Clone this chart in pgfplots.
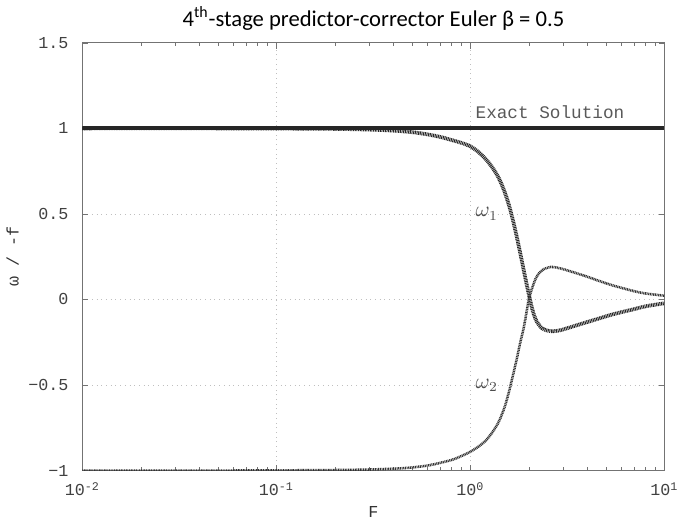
\documentclass[border=0pt]{standalone}
\usepackage{fontspec}
\setmainfont{Carlito}
\setmonofont{Liberation Mono}
\usepackage{pgfplots}
\pgfplotsset{compat=1.18}

\begin{document}
\begin{tikzpicture}
\begin{axis}[
  xmode=log,
  width=296pt, height=217.5pt,
  scale only axis,
  xmin=0.01, xmax=10, ymin=-1, ymax=1.5,
  axis line style={black!55, line width=0.5pt},
  tick style={black!55},
  major tick length=3pt, minor tick length=1.8pt,
  tick align=inside,
  xtick={0.01,0.1,1,10},
  xticklabels={10\textsuperscript{-2},10\textsuperscript{-1},10\textsuperscript{0},10\textsuperscript{1}},
  ytick={-1,-0.5,0,0.5,1,1.5},
  yticklabels={−1,−0.5,0,0.5,1,1.5},
  ticklabel style={font=\ttfamily\fontsize{8.5}{9}\selectfont, text=black!75},
  xticklabel style={yshift=-2.5pt},
  yticklabel style={xshift=-3.5pt},
  grid=major,
  major grid style={black!25, dotted, line width=0.4pt},
  xlabel={F},
  ylabel={ω / -f},
  label style={font=\ttfamily\fontsize{8.5}{9}\selectfont, text=black!80},
  xlabel style={yshift=1.5pt},
  ylabel style={yshift=-2pt},
  title={4\textsuperscript{th}-stage predictor-corrector Euler β = 0.5},
  title style={font=\fontsize{11.5}{12}\selectfont, yshift=-3pt},
]
\addplot[black!85, line width=2pt] coordinates {(0.01,1) (10,1)};

\addplot[black!85, line width=1.9pt, dash pattern=on 0.5pt off 0.35pt, smooth] coordinates {
(0.01,1) (0.05,1) (0.1,0.999) (0.2,0.997) (0.3,0.993) (0.4,0.987) (0.5,0.978)
(0.6,0.965) (0.7,0.95) (0.8,0.932) (0.9,0.915) (1.0,0.895) (1.1,0.862)
(1.2,0.82) (1.3,0.77) (1.4,0.71) (1.5,0.63) (1.6,0.53) (1.7,0.41)
(1.8,0.28) (1.9,0.15) (2.0,0.03) (2.1,-0.07) (2.2,-0.13) (2.35,-0.17)
(2.6,-0.186) (2.9,-0.18) (3.2,-0.166) (3.6,-0.148) (4.0,-0.132) (4.7,-0.108)
(5.5,-0.085) (6.9,-0.058) (8.0,-0.04) (10,-0.022)
};

\addplot[black!80, line width=1.3pt, dash pattern=on 0.5pt off 0.35pt, smooth] coordinates {
(0.01,-1) (0.05,-1) (0.1,-0.999) (0.2,-0.997) (0.3,-0.994) (0.42,-0.988)
(0.5,-0.982) (0.62,-0.968) (0.8,-0.938) (0.92,-0.91) (1.0,-0.89) (1.1,-0.86)
(1.2,-0.825) (1.3,-0.775) (1.4,-0.715) (1.5,-0.63) (1.58,-0.54) (1.66,-0.44)
(1.74,-0.34) (1.8,-0.26) (1.88,-0.17) (1.95,-0.07) (2.0,0.0) (2.1,0.08)
(2.2,0.135) (2.35,0.172) (2.6,0.19) (2.9,0.182) (3.2,0.168) (3.6,0.15)
(4.0,0.133) (4.7,0.105) (5.5,0.08) (6.9,0.05) (8.0,0.035) (10,0.022)
};

\node[anchor=west, font=\ttfamily\fontsize{9}{10}\selectfont, text=black!65] at (axis cs:0.98,1.095) {Exact Solution};
\node[anchor=west, text=black!70, font=\fontsize{10.5}{11}\selectfont] at (axis cs:0.98,0.5) {$\omega_{1}$};
\node[anchor=west, text=black!70, font=\fontsize{10.5}{11}\selectfont] at (axis cs:0.98,-0.5) {$\omega_{2}$};
\end{axis}
\end{tikzpicture}
\end{document}
